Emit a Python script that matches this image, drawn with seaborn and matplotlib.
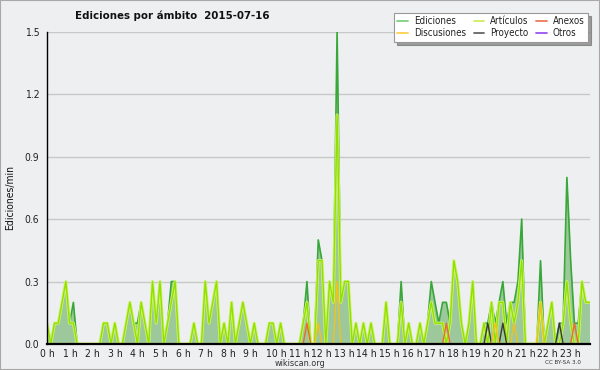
import pandas as pd
import seaborn as sns
import matplotlib.pyplot as plt
import matplotlib.patheffects as pe
import matplotlib.transforms as mtransforms
from matplotlib.lines import Line2D
from matplotlib.patches import Rectangle

# Constants
TITLE = "Ediciones por ámbito  2015-07-16"
Y_LABEL = "Ediciones/min"
HOUR_LABELS = [f"{h} h" for h in range(24)]
Y_TICKS = [0.0, 0.3, 0.6, 0.9, 1.2, 1.5]

# edits per minute, one value per 10 minutes (00:00 .. 24:00)
ediciones = [
    0.1, 0, 0.1, 0.1, 0.2, 0.3,
    0.1, 0.2, 0, 0, 0, 0,
    0, 0, 0, 0.1, 0.1, 0,
    0.1, 0, 0, 0.1, 0.2, 0.1,
    0.1, 0.2, 0.1, 0, 0.3, 0.1,
    0.3, 0, 0.1, 0.3, 0.3, 0,
    0, 0, 0, 0.1, 0, 0,
    0.3, 0.1, 0.2, 0.3, 0, 0.1,
    0, 0.2, 0, 0.1, 0.2, 0.1,
    0, 0.1, 0, 0, 0, 0.1,
    0.1, 0, 0.1, 0, 0, 0,
    0, 0, 0.1, 0.3, 0, 0,
    0.5, 0.4, 0, 0.3, 0.2, 1.5,
    0.2, 0.3, 0.3, 0, 0.1, 0,
    0.1, 0, 0.1, 0, 0, 0,
    0.2, 0, 0, 0, 0.3, 0,
    0.1, 0, 0, 0.1, 0, 0.1,
    0.3, 0.2, 0.1, 0.2, 0.2, 0.1,
    0.4, 0.3, 0.1, 0, 0.1, 0.3,
    0, 0, 0.1, 0.1, 0.2, 0.1,
    0.2, 0.3, 0.1, 0.2, 0.2, 0.3,
    0.6, 0, 0, 0, 0, 0.4,
    0, 0.1, 0.2, 0, 0.1, 0.1,
    0.8, 0.4, 0.1, 0.1, 0.3, 0.2,
    0.2,
]
articulos = [
    0.1, 0, 0.1, 0.1, 0.2, 0.3,
    0.1, 0.1, 0, 0, 0, 0,
    0, 0, 0, 0.1, 0.1, 0,
    0.1, 0, 0, 0.1, 0.2, 0.1,
    0, 0.2, 0.1, 0, 0.3, 0.1,
    0.3, 0, 0.1, 0.2, 0.3, 0,
    0, 0, 0, 0.1, 0, 0,
    0.3, 0.1, 0.2, 0.3, 0, 0.1,
    0, 0.2, 0, 0.1, 0.2, 0.1,
    0, 0.1, 0, 0, 0, 0.1,
    0.1, 0, 0.1, 0, 0, 0,
    0, 0, 0.1, 0.2, 0, 0,
    0.4, 0.4, 0, 0.3, 0.2, 1.1,
    0.2, 0.3, 0.3, 0, 0.1, 0,
    0.1, 0, 0.1, 0, 0, 0,
    0.2, 0, 0, 0, 0.2, 0,
    0.1, 0, 0, 0.1, 0, 0.1,
    0.2, 0.1, 0.1, 0.1, 0, 0.1,
    0.4, 0.3, 0.1, 0, 0.1, 0.3,
    0, 0, 0.1, 0, 0.2, 0,
    0.2, 0.2, 0, 0.2, 0.1, 0.2,
    0.4, 0, 0, 0, 0, 0.2,
    0, 0.1, 0.2, 0, 0, 0.1,
    0.3, 0.1, 0, 0, 0.3, 0.2,
    0.2,
]
anexos = [
    0, 0, 0, 0, 0, 0,  0, 0, 0, 0, 0, 0,  0, 0, 0, 0, 0, 0,  0, 0, 0, 0, 0, 0,
    0, 0, 0, 0, 0, 0,  0, 0, 0, 0, 0, 0,  0, 0, 0, 0, 0, 0,  0, 0, 0, 0, 0, 0,
    0, 0, 0, 0, 0, 0,  0, 0, 0, 0, 0, 0,  0, 0, 0, 0, 0, 0,  0, 0, 0, 0.1, 0, 0,
    0, 0, 0, 0, 0, 0,  0, 0, 0, 0, 0, 0,  0, 0, 0, 0, 0, 0,  0, 0, 0, 0, 0, 0,
    0, 0, 0, 0, 0, 0,  0, 0, 0, 0, 0.1, 0,  0, 0, 0, 0, 0, 0,  0, 0, 0, 0, 0, 0,
    0, 0, 0, 0, 0, 0,  0, 0, 0, 0, 0, 0,  0, 0, 0, 0, 0, 0,  0, 0, 0.1, 0, 0, 0,
    0,
]
discusiones = [
    0, 0, 0, 0, 0, 0,  0, 0, 0, 0, 0, 0,  0, 0, 0, 0, 0, 0,  0, 0, 0, 0, 0, 0,
    0, 0, 0, 0, 0, 0,  0, 0, 0, 0, 0, 0,  0, 0, 0, 0, 0, 0,  0, 0, 0, 0, 0, 0,
    0, 0, 0, 0, 0, 0,  0, 0, 0, 0, 0, 0,  0, 0, 0, 0, 0, 0,  0, 0, 0, 0, 0, 0,
    0.1, 0, 0, 0, 0, 0.3,  0, 0, 0, 0, 0, 0,  0, 0, 0, 0, 0, 0,  0, 0, 0, 0, 0, 0,
    0, 0, 0, 0, 0, 0,  0, 0, 0, 0, 0, 0,  0, 0, 0, 0, 0, 0,  0, 0, 0, 0, 0, 0.1,
    0, 0, 0, 0, 0.1, 0,  0, 0, 0, 0, 0, 0.2,  0, 0, 0, 0, 0, 0,  0, 0, 0, 0, 0, 0,
    0,
]
proyecto = [
    0, 0, 0, 0, 0, 0,  0, 0, 0, 0, 0, 0,  0, 0, 0, 0, 0, 0,  0, 0, 0, 0, 0, 0,
    0, 0, 0, 0, 0, 0,  0, 0, 0, 0, 0, 0,  0, 0, 0, 0, 0, 0,  0, 0, 0, 0, 0, 0,
    0, 0, 0, 0, 0, 0,  0, 0, 0, 0, 0, 0,  0, 0, 0, 0, 0, 0,  0, 0, 0, 0, 0, 0,
    0, 0, 0, 0, 0, 0,  0, 0, 0, 0, 0, 0,  0, 0, 0, 0, 0, 0,  0, 0, 0, 0, 0, 0,
    0, 0, 0, 0, 0, 0,  0, 0, 0, 0, 0, 0,  0, 0, 0, 0, 0, 0,  0, 0, 0, 0.1, 0, 0,
    0, 0.1, 0, 0, 0, 0,  0, 0, 0, 0, 0, 0,  0, 0, 0, 0, 0.1, 0,  0, 0, 0, 0, 0, 0,
    0,
]
otros = [0] * 145

# Colours
BG = "#eeeff0"
FILL = "#9cc89c"
LINE_COLORS = {
    "Ediciones": "#38a838",
    "Artículos": "#92e000",
    "Anexos": "#ee6a2a",
    "Discusiones": "#f2c21a",
    "Proyecto": "#3a3a3a",
    "Otros": "#8e44ee",
}
LEGEND_COLORS = {
    "Ediciones": "#7fd07f",
    "Artículos": "#cdee5a",
    "Anexos": "#ee7a55",
    "Discusiones": "#ffd050",
    "Proyecto": "#666666",
    "Otros": "#9a55ee",
}
FONT = ["Liberation Sans Narrow", "DejaVu Sans"]


def build_frame():
    """Put every series into one table, one row per 10 minute slot."""
    return pd.DataFrame({
        "slot": range(len(ediciones)),
        "Ediciones": ediciones,
        "Artículos": articulos,
        "Anexos": anexos,
        "Discusiones": discusiones,
        "Proyecto": proyecto,
        "Otros": otros,
    })


def style_axes(fig, ax):
    ax.set_facecolor(BG)
    ax.set_xlim(0, 144)
    ax.set_ylim(0, 1.5)

    for side in ["top", "right"]:
        ax.spines[side].set_visible(False)
    for side in ["left", "bottom"]:
        ax.spines[side].set_color("black")
        ax.spines[side].set_zorder(10)
    ax.spines["left"].set_linewidth(1.0)
    ax.spines["bottom"].set_linewidth(1.6)

    ax.set_yticks(Y_TICKS)
    ax.set_yticklabels([f"{v:.1f}" for v in Y_TICKS])
    ax.set_yticks([i * 0.075 for i in range(21)], minor=True)
    ax.set_xticks(range(0, 144, 6))
    ax.set_xticklabels(HOUR_LABELS)
    ax.set_xticks(range(0, 145), minor=True)

    ax.tick_params(axis="both", which="both", direction="out", length=4,
                   width=1, color="black", labelsize=7.5, labelcolor="#222222")
    ax.tick_params(axis="x", which="both", pad=-0.5)
    ax.tick_params(axis="y", which="both", pad=1.5)

    # hour labels start a little left of their tick
    shift = mtransforms.ScaledTranslation(-0.07, 0, fig.dpi_scale_trans)
    for lab in ax.get_xticklabels():
        lab.set_horizontalalignment("left")
        lab.set_transform(lab.get_transform() + shift)

    ax.yaxis.grid(True, which="major", color="#c8c8c8", linewidth=1)
    ax.xaxis.grid(False)
    ax.set_axisbelow(True)
    ax.set_xlabel("")
    ax.set_ylabel("")


def plot_series(df, ax):
    ax.fill_between(df["slot"], df["Ediciones"], color=FILL, linewidth=0, zorder=1)
    sns.lineplot(data=df, x="slot", y="Ediciones", color=LINE_COLORS["Ediciones"],
                 linewidth=1.2, ax=ax, zorder=3, legend=False)
    sns.lineplot(data=df, x="slot", y="Artículos", color=LINE_COLORS["Artículos"],
                 linewidth=1.0, ax=ax, zorder=4, legend=False,
                 path_effects=[pe.Stroke(linewidth=2.2, foreground="#cdf36e"), pe.Normal()])
    for name in ["Otros", "Proyecto", "Anexos", "Discusiones"]:
        sns.lineplot(data=df, x="slot", y=name, color=LINE_COLORS[name],
                     linewidth=1.0, ax=ax, zorder=5, legend=False)


def add_legend(fig):
    # ncol legends fill column by column
    order = ["Ediciones", "Discusiones", "Artículos", "Proyecto", "Anexos", "Otros"]
    handles = [Line2D([], [], color=LEGEND_COLORS[n], linewidth=1.3) for n in order]
    leg = fig.legend(handles, order, ncol=3, loc="upper right",
                     bbox_to_anchor=(588 / 600, 1 - 13 / 370), borderaxespad=0,
                     frameon=True, fancybox=False, shadow=True,
                     fontsize=7, handlelength=1.1, handletextpad=0.6,
                     columnspacing=0.8, labelspacing=0.2, borderpad=0.35)
    leg.get_frame().set_facecolor("white")
    leg.get_frame().set_edgecolor("#999999")
    leg.get_frame().set_linewidth(0.8)
    for txt in leg.get_texts():
        txt.set_color("#222222")


def main():
    sns.set_theme(style="white")
    plt.rcParams["font.family"] = FONT
    plt.rcParams["font.stretch"] = "condensed"

    df = build_frame()

    fig = plt.figure(figsize=(6, 3.7), dpi=100, facecolor=BG)
    ax = fig.add_axes([47 / 600, 1 - 344 / 370, 542.5 / 600, 312.3 / 370])

    plot_series(df, ax)
    style_axes(fig, ax)
    add_legend(fig)

    fig.text(75 / 600, 1 - 16 / 370, TITLE, ha="left", va="center",
             fontsize=8.2, fontweight="bold", color="#111111")
    fig.text(10 / 600, 1 - 197 / 370, Y_LABEL, rotation=90, ha="center",
             va="center", fontsize=7.5, color="#111111")
    fig.text(0.5, 1 - 363 / 370, "wikiscan.org", ha="center", va="center",
             fontsize=6.5, color="#333333")
    fig.text(563 / 600, 1 - 363 / 370, "CC BY-SA 3.0", ha="center", va="center",
             fontsize=4.5, color="#333333")

    fig.patches.append(Rectangle((0, 0), 1, 1, transform=fig.transFigure,
                                 fill=False, edgecolor="#a8a8a8", linewidth=1.5))

    fig.savefig("out.png", dpi=100, facecolor=BG)
    plt.close(fig)


if __name__ == "__main__":
    main()
